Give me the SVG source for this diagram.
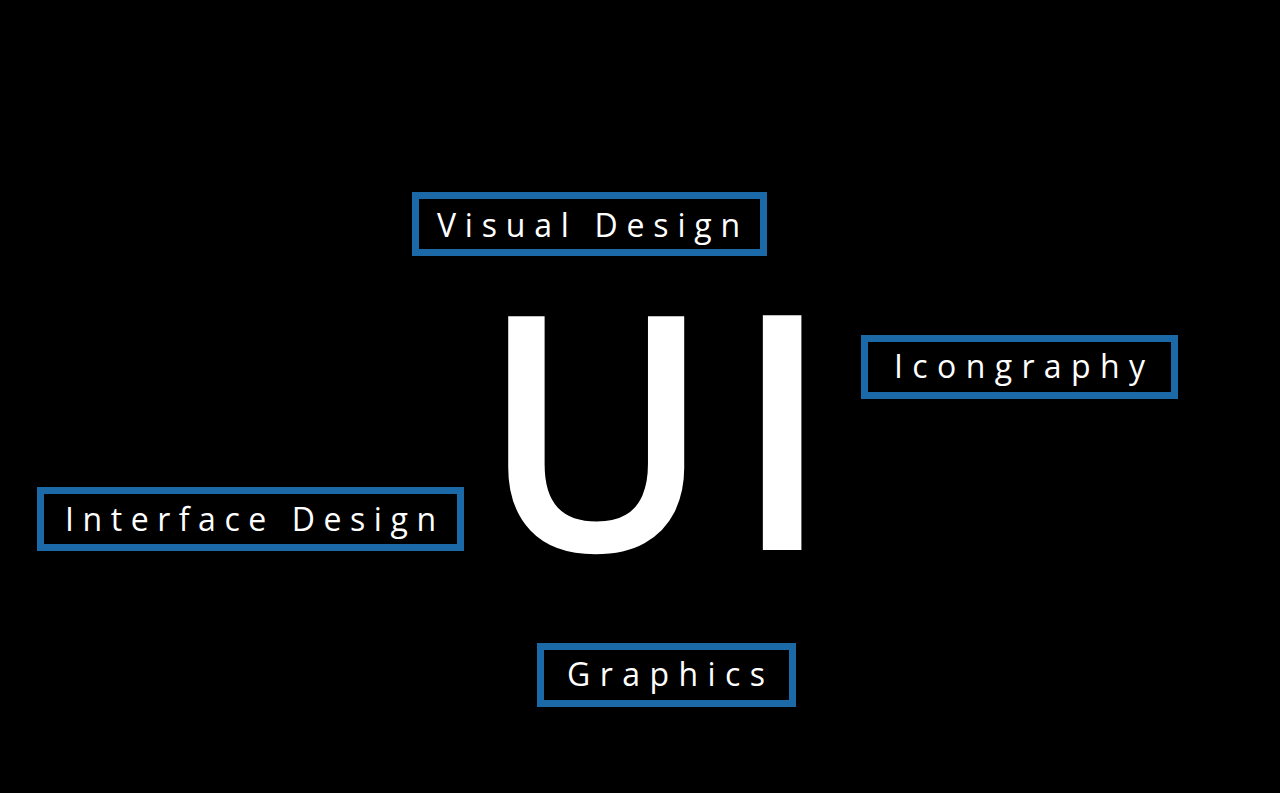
<svg xmlns="http://www.w3.org/2000/svg" width="1280" height="793" viewBox="0 0 1280 793">
<style>
.box{fill:#000;stroke:#1b69a6;stroke-width:7}
.lbl{fill:#fff;font-family:"Open Sans","Liberation Sans",sans-serif;font-size:32px;font-weight:500}
.big{fill:#fff;font-family:"Open Sans","Liberation Sans",sans-serif;font-size:329px;font-weight:600}
</style>
<rect width="1280" height="793" fill="#000"/>
<g id="ui">
<text class="big" x="0" y="0" transform="translate(481 551) scale(0.944 1)">U</text>
<text class="big" x="732" y="550">I</text>
</g>
<g id="visual-design">
<rect class="box" x="415.5" y="195.5" width="348" height="57"/>
<text class="lbl" x="437" y="237" textLength="303" lengthAdjust="spacing">Visual Design</text>
</g>
<g id="icongraphy">
<rect class="box" x="864.5" y="338.5" width="310" height="57"/>
<text class="lbl" x="894" y="378" textLength="251" lengthAdjust="spacing">Icongraphy</text>
</g>
<g id="interface-design">
<rect class="box" x="40.5" y="490.5" width="420" height="57"/>
<text class="lbl" x="65" y="531" textLength="371" lengthAdjust="spacing">Interface Design</text>
</g>
<g id="graphics">
<rect class="box" x="540.5" y="646.5" width="252" height="57"/>
<text class="lbl" x="567" y="686" textLength="198" lengthAdjust="spacing">Graphics</text>
</g>
<g id="connectors"></g>
</svg>
